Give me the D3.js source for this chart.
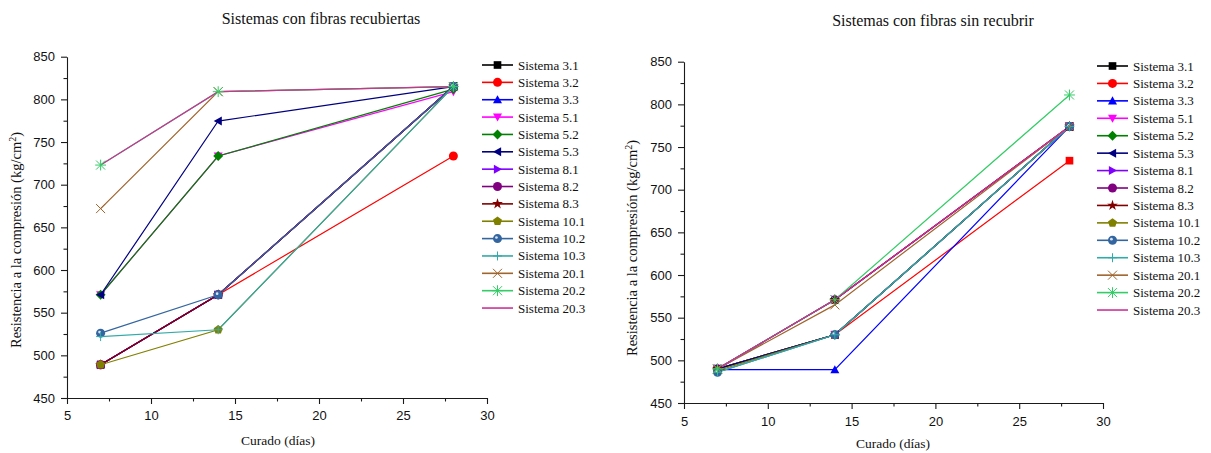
<!DOCTYPE html>
<html><head><meta charset="utf-8">
<script src="https://cdn.jsdelivr.net/npm/d3@7"></script>
<style>body{margin:0;background:#fff}svg{display:block}</style>
</head><body><svg id="c" width="1211" height="453"></svg>
<script>
const days = [7, 14, 28];
const seriesNames = ["Sistema 3.1","Sistema 3.2","Sistema 3.3","Sistema 5.1","Sistema 5.2","Sistema 5.3","Sistema 8.1","Sistema 8.2","Sistema 8.3","Sistema 10.1","Sistema 10.2","Sistema 10.3","Sistema 20.1","Sistema 20.2","Sistema 20.3"];
const seriesColors = ["#000000","#ff0000","#0000ff","#ff00ff","#008000","#000080","#8000ff","#800080","#800000","#808000","#3366a0","#33aaaa","#a0642d","#33cc66","#cc3399"];
const seriesMarkers = ["square","circle","triUp","triDown","diamond","triLeft","triRight","circle","star","pentagon","ball","plus","cross","asterisk","none"];
// Sistemas con fibras recubiertas
const coatedValues = [
  [489, 571, 815],
  [489, 571, 733.6],
  [489, 571, 815],
  [571, 733.6, 809],
  [571, 733.6, 812],
  [571, 774.6, 815],
  [489, 571, 815],
  [489, 571, 815],
  [489, 571, 815],
  [489, 530, 815],
  [526, 571, 815],
  [522, 530, 815],
  [672, 809, 815],
  [723, 809, 815],
  [723, 809, 815]
];
// Sistemas con fibras sin recubrir
const uncoatedValues = [
  [490, 530, 774],
  [490, 530, 734],
  [489, 489, 774],
  [490, 530, 774],
  [490, 530, 774],
  [490, 530, 774],
  [490, 571, 774],
  [490, 571, 774],
  [490, 571, 774],
  [488, 530, 774],
  [486, 530, 774],
  [486, 530, 774],
  [490, 565, 774],
  [490, 571, 811],
  [490, 571, 774]
];
const yTicks = [450, 500, 550, 600, 650, 700, 750, 800, 850];
const xTicks = [5, 10, 15, 20, 25, 30];
const titles = ["Sistemas con fibras recubiertas", "Sistemas con fibras sin recubrir"];
const xLabel = "Curado (días)";
const yLabel = "Resistencia a la compresión (kg/cm";

const svg = d3.select("#c");
const SERIF = "'Liberation Serif','Times New Roman',serif";
const SANS = "'Liberation Sans',Arial,sans-serif";

function markerPath(type, s) {
  const h = s / 2;
  switch (type) {
    case "square": return `M${-h*0.85},${-h*0.85}h${1.7*h}v${1.7*h}h${-1.7*h}Z`;
    case "circle": case "ball": return d3.symbol(d3.symbolCircle, Math.PI*h*h)();
    case "triUp": return `M0,${-h}L${h},${h*0.8}L${-h},${h*0.8}Z`;
    case "triDown": return `M0,${h}L${h},${-h*0.8}L${-h},${-h*0.8}Z`;
    case "triLeft": return `M${-h},0L${h*0.8},${-h}L${h*0.8},${h}Z`;
    case "triRight": return `M${h},0L${-h*0.8},${-h}L${-h*0.8},${h}Z`;
    case "diamond": return `M0,${-h*1.1}L${h*1.1},0L0,${h*1.1}L${-h*1.1},0Z`;
    case "star": return d3.symbol(d3.symbolStar, s*s*0.45)();
    case "pentagon": {
      let p = [];
      for (let i = 0; i < 5; i++) { const a = -Math.PI/2 + i*2*Math.PI/5; p.push([h*1.05*Math.cos(a), h*1.05*Math.sin(a)]); }
      return "M" + p.map(q => q.join(",")).join("L") + "Z";
    }
    case "plus": return `M${-h},0H${h}M0,${-h}V${h}`;
    case "cross": return `M${-h},${-h}L${h},${h}M${-h},${h}L${h},${-h}`;
    case "asterisk": return `M${-h},${-h}L${h},${h}M${-h},${h}L${h},${-h}M0,${-h*1.2}V${h*1.2}M${-h*1.2},0H${h*1.2}`;
  }
  return "";
}
function drawMarker(g, type, color, x, y, s) {
  if (type === "none") return;
  const stroked = (type === "plus" || type === "cross" || type === "asterisk");
  const p = g.append("path").attr("d", markerPath(type, s)).attr("transform", `translate(${x},${y})`);
  if (stroked) p.attr("fill", "none").attr("stroke", color).attr("stroke-width", 1);
  else p.attr("fill", color).attr("stroke", "none");
  if (type === "ball") {
    g.append("circle").attr("cx", x - s*0.12).attr("cy", y - s*0.12).attr("r", s*0.15).attr("fill", "#d8e4f4");
  }
}

function drawChart(cfg) {
  const x = d3.scaleLinear().domain([5, 30]).range([cfg.x0, cfg.x1]);
  const y = d3.scaleLinear().domain([450, 850]).range([cfg.yBot, cfg.yTop]);
  const g = svg.append("g");

  const xMinor = d3.range(7.5, 30, 5);
  const yMinor = d3.range(475, 850, 50);
  g.append("g").attr("transform", `translate(0,${cfg.yBot})`)
    .call(d3.axisBottom(x).tickValues(xTicks).tickSize(6).tickSizeOuter(0).tickPadding(cfg.xPad).tickFormat(d3.format("d")));
  g.append("g").attr("transform", `translate(0,${cfg.yBot})`)
    .call(d3.axisBottom(x).tickValues(xMinor).tickSize(3.5).tickSizeOuter(0).tickFormat(""))
    .select(".domain").remove();
  g.append("g").attr("transform", `translate(${cfg.x0},0)`)
    .call(d3.axisLeft(y).tickValues(yTicks).tickSize(6).tickSizeOuter(0).tickPadding(6));
  g.append("g").attr("transform", `translate(${cfg.x0},0)`)
    .call(d3.axisLeft(y).tickValues(yMinor).tickSize(3.5).tickSizeOuter(0).tickFormat(""))
    .select(".domain").remove();
  g.selectAll(".domain, .tick line").attr("stroke", "#1a1a1a").attr("stroke-width", 1.1);
  g.selectAll(".tick text").attr("font-family", SANS).attr("font-size", 13).attr("fill", "#111");

  const line = d3.line().x((d, i) => x(days[i])).y(d => y(d));
  cfg.values.forEach((vals, si) => {
    g.append("path").attr("d", line(vals)).attr("fill", "none")
      .attr("stroke", seriesColors[si]).attr("stroke-width", 1.2);
  });
  cfg.values.forEach((vals, si) => {
    const mk = (cfg.markerOverride && cfg.markerOverride[si]) || seriesMarkers[si];
    vals.forEach((v, i) => drawMarker(g, mk, seriesColors[si], x(days[i]), y(v), 9));
  });

  seriesNames.forEach((n, i) => {
    const ly = cfg.legY + i * cfg.legStep;
    g.append("line").attr("x1", cfg.legX).attr("x2", cfg.legX + 31).attr("y1", ly).attr("y2", ly)
      .attr("stroke", seriesColors[i]).attr("stroke-width", 1.6);
    drawMarker(g, seriesMarkers[i], seriesColors[i], cfg.legX + 15.5, ly, 9);
    g.append("text").attr("x", cfg.legX + 36).attr("y", ly + 4.5).text(n)
      .attr("font-family", SERIF).attr("font-size", 13).attr("fill", "#111");
  });

  g.append("text").attr("x", cfg.titleX).attr("y", cfg.titleY).attr("text-anchor", "middle")
    .attr("font-family", SERIF).attr("font-size", 16).attr("fill", "#111").text(cfg.title);
  g.append("text").attr("x", cfg.xlabX).attr("y", cfg.xlabY).attr("text-anchor", "middle")
    .attr("font-family", SERIF).attr("font-size", 13.5).attr("fill", "#111").text(xLabel);
  const yl = g.append("text").attr("transform", `translate(${cfg.ylabX},${cfg.ylabY}) rotate(-90)`)
    .attr("text-anchor", "middle").attr("font-family", SERIF).attr("font-size", 14.5).attr("fill", "#111");
  yl.append("tspan").text(yLabel);
  yl.append("tspan").attr("dy", -5).attr("font-size", 10).text("2");
  yl.append("tspan").attr("dy", 5).text(")");
}

drawChart({ x0: 67, x1: 487, yTop: 56.7, yBot: 398, values: coatedValues, xPad: 7,
  legX: 482, legY: 65, legStep: 17.36, title: titles[0], titleX: 321, titleY: 24,
  xlabX: 278, xlabY: 445, ylabX: 21, ylabY: 240 });
drawChart({ x0: 684, x1: 1103, yTop: 61.7, yBot: 403, values: uncoatedValues, xPad: 8,
  markerOverride: {1: "square"},
  legX: 1097, legY: 66, legStep: 17.43, title: titles[1], titleX: 933, titleY: 26,
  xlabX: 893, xlabY: 448, ylabX: 637, ylabY: 248 });
</script></body></html>
